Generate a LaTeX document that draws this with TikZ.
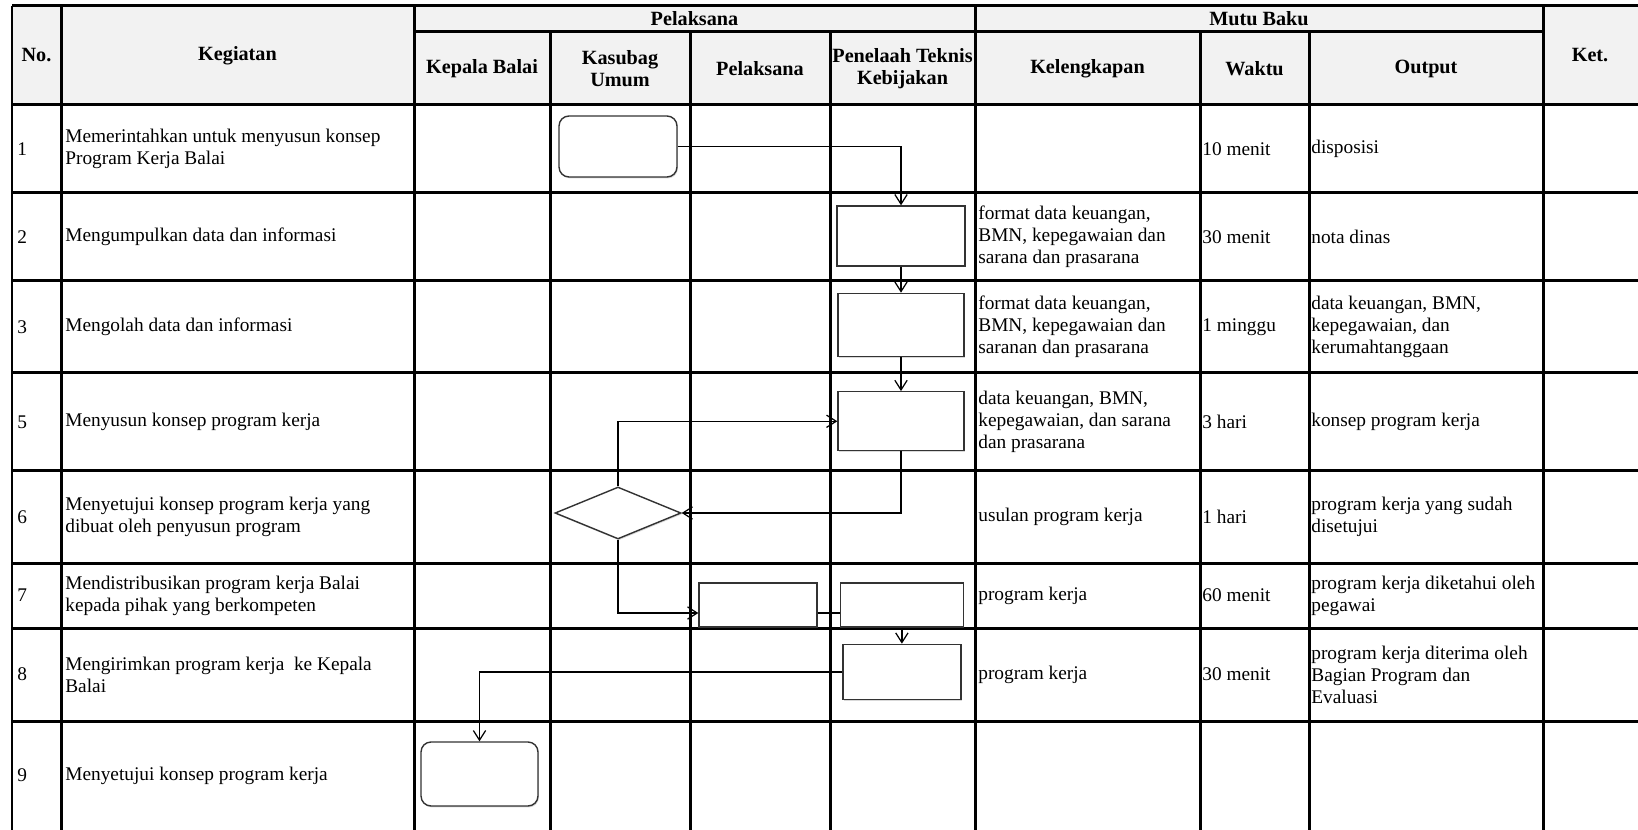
\documentclass[tikz,border=0pt]{standalone}
\usepackage{fontspec}
\setmainfont{Liberation Serif}
\usetikzlibrary{positioning}
\usetikzlibrary{arrows.meta}
\usetikzlibrary{shapes.geometric}
\usetikzlibrary{shadows}
\definecolor{headgray}{HTML}{F2F2F2}
\tikzset{
	tabline/.style={line width=0.06cm, black},
	cell/.style={anchor=west, align=left, inner sep=0pt, font=\fontsize{11}{12.5}\selectfont},
	head/.style={align=center, inner sep=0pt, font=\bfseries\fontsize{11.5}{12.5}\selectfont},
	boxshadow/.style={drop shadow={shadow xshift=0.5pt, shadow yshift=-0.8pt, opacity=0.3}},
	terminal/.style={rectangle, rounded corners=0.2cm, draw=black!80, line width=0.8pt, fill=white, boxshadow, minimum width=2.36cm, minimum height=1.22cm},
	process/.style={rectangle, draw=black!80, line width=0.8pt, fill=white, boxshadow, minimum width=2.52cm, minimum height=1.2cm},
	decision/.style={diamond, draw=black!80, line width=0.8pt, fill=white, boxshadow, inner sep=0pt, minimum width=2.52cm, minimum height=1.04cm},
	flow/.style={line width=0.7pt, -{Straight Barb[length=5.5pt, width=7pt]}},
	link/.style={line width=0.7pt}
}

\begin{document}
\begin{tikzpicture}[x=0.02cm, y=-0.02cm]
	\useasboundingbox (0,0) rectangle (1638,830);
	% Header background and grid
	\fill[headgray] (12,6) rectangle (1638,105);
	\draw[tabline] (12,6) -- (1638,6) (414,32) -- (1543,32) (12,105) -- (1638,105)
		(12,193) -- (1638,193) (12,281) -- (1638,281) (12,373) -- (1638,373)
		(12,471) -- (1638,471) (12,563) -- (1638,563) (12,628) -- (1638,628)
		(12,721) -- (1638,721);
	\draw[tabline] (12,6) -- (12,830) (61,6) -- (61,830) (414,6) -- (414,830)
		(550,32) -- (550,830) (690,32) -- (690,830) (830,32) -- (830,830)
		(975,6) -- (975,830) (1200,32) -- (1200,830) (1309,32) -- (1309,830)
		(1543,6) -- (1543,830);
	
	% Header
	\node (hNo) [head] at (36.5,55.5) {No.};
	\node (hKeg) [head] at (237.5,55.5) {Kegiatan};
	\node (hPel) [head] at (694.5,19) {Pelaksana};
	\node (hMutu) [head] at (1259,19) {Mutu Baku};
	\node (hKepala) [head] at (482,68.5) {Kepala Balai};
	\node (hKasubag) [head] at (620,68.5) {Kasubag\\Umum};
	\node (hPelaksana) [head] at (760,68.5) {Pelaksana};
	\node (hPenelaah) [head] at (902.5,68.5) {Penelaah Teknis\\Kebijakan};
	\node (hKeleng) [head] at (1087.5,68.5) {Kelengkapan};
	\node (hWaktu) [head] at (1254.5,68.5) {Waktu};
	\node (hOutput) [head] at (1426,68.5) {Output};
	\node (hKet) [head] at (1590,55.5) {Ket.};
	
	% Rows
	\node (no1) [cell] at (17,149) {1};
	\node (keg1) [cell] at (65,149) {Memerintahkan untuk menyusun konsep\\Program Kerja Balai};
	\node (wkt1) [cell] at (1202,149) {10 menit};
	\node (out1) [cell] at (1311,149) {disposisi};
	
	\node (no2) [cell] at (17,237) {2};
	\node (keg2) [cell] at (65,237) {Mengumpulkan data dan informasi};
	\node (kel2) [cell] at (978,237) {format data keuangan,\\BMN, kepegawaian dan\\sarana dan prasarana};
	\node (wkt2) [cell] at (1202,237) {30 menit};
	\node (out2) [cell] at (1311,237) {nota dinas};
	
	\node (no3) [cell] at (17,327) {3};
	\node (keg3) [cell] at (65,327) {Mengolah data dan informasi};
	\node (kel3) [cell] at (978,327) {format data keuangan,\\BMN, kepegawaian dan\\saranan dan prasarana};
	\node (wkt3) [cell] at (1202,327) {1 minggu};
	\node (out3) [cell] at (1311,327) {data keuangan, BMN,\\kepegawaian, dan\\kerumahtanggaan};
	
	\node (no5) [cell] at (17,422) {5};
	\node (keg5) [cell] at (65,422) {Menyusun konsep program kerja};
	\node (kel5) [cell] at (978,422) {data keuangan, BMN,\\kepegawaian, dan sarana\\dan prasarana};
	\node (wkt5) [cell] at (1202,422) {3 hari};
	\node (out5) [cell] at (1311,422) {konsep program kerja};
	
	\node (no6) [cell] at (17,517) {6};
	\node (keg6) [cell] at (65,517) {Menyetujui konsep program kerja yang\\dibuat oleh penyusun program};
	\node (kel6) [cell] at (978,517) {usulan program kerja};
	\node (wkt6) [cell] at (1202,517) {1 hari};
	\node (out6) [cell] at (1311,517) {program kerja yang sudah\\disetujui};
	
	\node (no7) [cell] at (17,595.5) {7};
	\node (keg7) [cell] at (65,595.5) {Mendistribusikan program kerja Balai\\kepada pihak yang berkompeten};
	\node (kel7) [cell] at (978,595.5) {program kerja};
	\node (wkt7) [cell] at (1202,595.5) {60 menit};
	\node (out7) [cell] at (1311,595.5) {program kerja diketahui oleh\\pegawai};
	
	\node (no8) [cell] at (17,674.5) {8};
	\node (keg8) [cell] at (65,674.5) {Mengirimkan program kerja\ \ ke Kepala\\Balai};
	\node (kel8) [cell] at (978,674.5) {program kerja};
	\node (wkt8) [cell] at (1202,674.5) {30 menit};
	\node (out8) [cell] at (1311,674.5) {program kerja diterima oleh\\Bagian Program dan\\Evaluasi};
	
	\node (no9) [cell] at (17,775.5) {9};
	\node (keg9) [cell] at (65,775.5) {Menyetujui konsep program kerja};
	
	% Flowchart
	\node (mulai) [terminal] at (618,146.5) {};
	\node (kumpul) [process, minimum width=2.56cm] at (901,236) {};
	\node (olah) [process, minimum height=1.26cm, below=0.52cm of kumpul] {};
	\node (susun) [process, minimum height=1.18cm, below=0.68cm of olah] {};
	\node (cek) [decision] at (618,513) {};
	\node (bagi) [process, minimum width=2.36cm, minimum height=0.88cm] at (758,605) {};
	\node (terima) [process, minimum width=2.46cm, minimum height=0.88cm, right=0.44cm of bagi] {};
	\node (kirim) [process, minimum width=2.36cm, minimum height=1.1cm, below=0.32cm of terima] {};
	\node (selesai) [terminal, minimum width=2.34cm, minimum height=1.28cm] at (479.5,774) {};
	
	\draw[flow] (mulai.east) -| (kumpul.north);
	\draw[flow] (kumpul.south) -- (kumpul.south |- olah.north);
	\draw[flow] (olah.south) -- (olah.south |- susun.north);
	\draw[flow] (susun.south) |- (cek.east);
	\draw[flow] (cek.north) |- (susun.west);
	\draw[flow] (cek.south) |- ([yshift=-0.16cm]bagi.west);
	\draw[link] ([yshift=-0.16cm]bagi.east) -- ([yshift=-0.16cm]terima.west);
	\draw[flow] (terima.south) -- (terima.south |- kirim.north);
	\draw[flow] (kirim.west) -| (selesai.north);
	
\end{tikzpicture}
\end{document}
